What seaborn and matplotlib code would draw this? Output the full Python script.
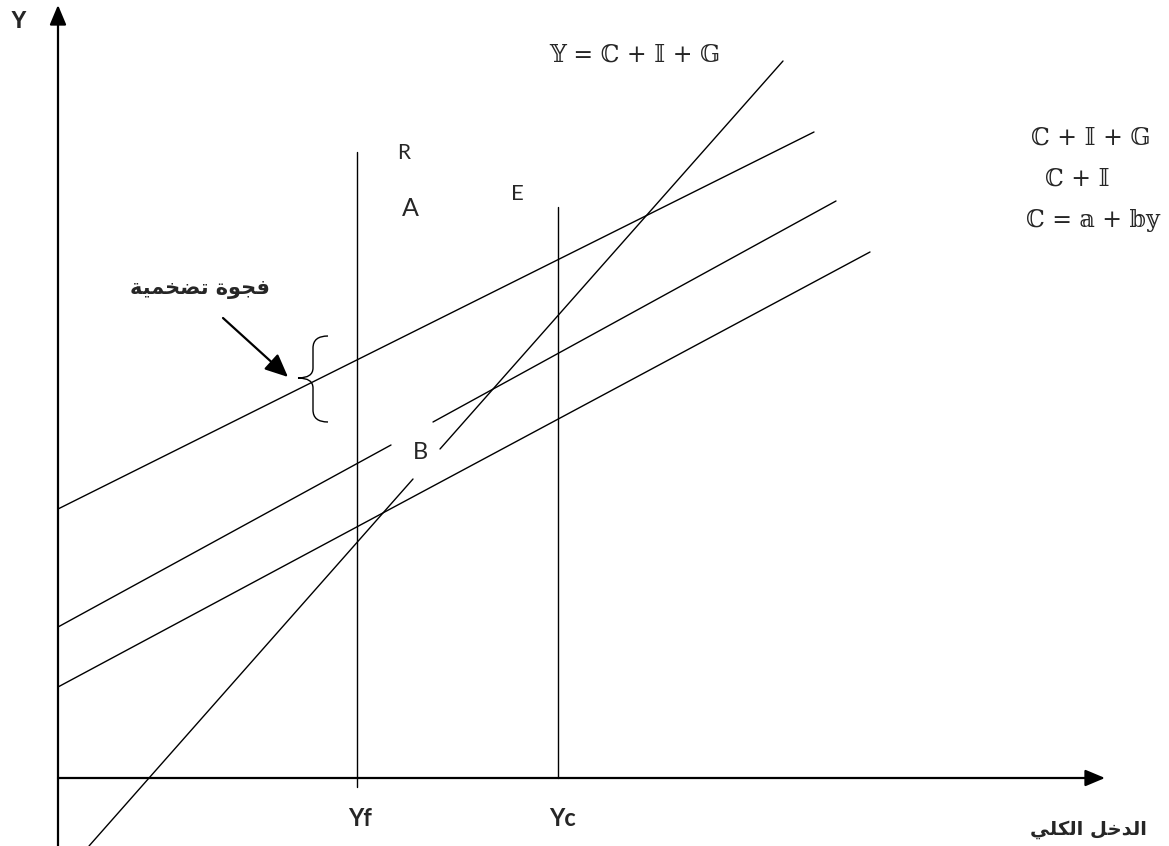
import numpy as np
import pandas as pd
import matplotlib
matplotlib.use("Agg")
import matplotlib.pyplot as plt
from matplotlib.path import Path
from matplotlib.patches import PathPatch
import seaborn as sns

# ---- data (diagram units: origin at the axes' crossing) ----
# aggregate demand C+I+G
cig_x = [0, 756]
cig_y = [269, 646]
# C+I (interrupted around the label B)
ci_x1 = [0, 333]
ci_y1 = [151, 333]
ci_x2 = [375, 778]
ci_y2 = [356, 577]
# consumption C = a + by
c_x = [0, 812]
c_y = [91, 526]
# 45-degree line Y = C+I+G (interrupted around B)
yy_x1 = [31, 355]
yy_y1 = [-68, 299]
yy_x2 = [382, 725]
yy_y2 = [329, 717]
# vertical income levels
yf_x = [299, 299]
yf_y = [-9, 626]
yc_x = [500, 500]
yc_y = [0, 571]

tick_labels = ["Yf", "Yc"]
tick_pos = [302, 504]

point_labels = ["R", "A", "E", "B"]
point_pos = [(346, 625), (352, 570), (459, 584), (362, 326)]
point_sizes = [15, 18, 16, 17]

formula_top = "\U0001D550 = \u2102 + \U0001D540 + \U0001D53E"          # 𝕐 = ℂ + 𝕀 + 𝔾
formula_right = ["\u2102 + \U0001D540 + \U0001D53E",                   # ℂ + 𝕀 + 𝔾
                 "\u2102 + \U0001D540",                                # ℂ + 𝕀
                 "\u2102 = \U0001D552 + \U0001D553\U0001D56A"]         # ℂ = 𝕒 + 𝕓𝕪
formula_right_pos = [(1033, 640), (1019, 599), (1035, 558)]

gap_label = "\uFE94\uFEF4\uFEE4\uFEA8\uFEC0\uFE97 \uFE93\uFEEE\uFEA0\uFED3"   # فجوة تضخمية
income_label = "\uFEF2\uFEE0\uFEDC\uFEDF\uFE8D \uFEDE\uFEA7\uFEAA\uFEDF\uFE8D"  # الدخل الكلي

sns.set_theme(style="white")
plt.rcParams["font.family"] = ["Lato", "DejaVu Sans"]

fig = plt.figure(figsize=(11.69, 8.46), dpi=100)
ax = fig.add_axes([0, 0, 1, 1])
ax.set_xlim(-58, 1111)
ax.set_ylim(-68, 778)
ax.axis("off")

line_kw = dict(color="black", linewidth=1.0, legend=False, estimator=None, sort=False)
for xs, ys in [(cig_x, cig_y), (ci_x1, ci_y1), (ci_x2, ci_y2), (c_x, c_y),
               (yy_x1, yy_y1), (yy_x2, yy_y2), (yf_x, yf_y), (yc_x, yc_y)]:
    sns.lineplot(x=xs, y=ys, ax=ax, **line_kw)

# axes with arrows
arrow_kw = dict(arrowstyle="-|>,head_length=1.0,head_width=0.42", color="black",
                lw=1.6, shrinkA=0, shrinkB=0, mutation_scale=12)
ax.annotate("", xy=(0, 773), xytext=(0, -68), arrowprops=arrow_kw)
ax.annotate("", xy=(1047, 0), xytext=(0, 0), arrowprops=arrow_kw)

# axis labels
ax.text(-40, 757, "Y", fontsize=17, fontweight="bold", family=["Liberation Sans"],
        ha="center", va="center")
ax.text(1030, -51, income_label, fontsize=14, fontweight="bold",
        family=["DejaVu Sans"], ha="center", va="center")
for lab, xp in zip(tick_labels, tick_pos):
    ax.text(xp, -40, lab, fontsize=17, fontweight="bold", ha="center", va="center")

# formulas
math_fam = ["DejaVu Serif", "DejaVu Sans"]
ax.text(577, 723, formula_top, fontsize=17, family=math_fam, ha="center", va="center")
for txt, (xp, yp) in zip(formula_right, formula_right_pos):
    ax.text(xp, yp, txt, fontsize=17, family=math_fam, ha="center", va="center")

# point labels
for lab, (xp, yp), fs in zip(point_labels, point_pos, point_sizes):
    ax.text(xp, yp, lab, fontsize=fs, ha="center", va="center")

# inflationary gap label, arrow and brace
ax.text(142, 489, gap_label, fontsize=15, fontweight="bold",
        family=["DejaVu Sans"], ha="center", va="center")
ax.annotate("", xy=(230, 401), xytext=(165, 460),
            arrowprops=dict(arrowstyle="-|>,head_length=1.0,head_width=0.45",
                            color="black", lw=1.6, shrinkA=0, shrinkB=0,
                            mutation_scale=14))
bx_end, bx_body, bx_tip = 270, 255, 240
by_top, by_mid, by_bot = 442, 400, 356
verts = [(bx_end, by_top), (bx_body, by_top), (bx_body, by_top - 12),
         (bx_body, by_mid + 10), (bx_body, by_mid), (bx_tip, by_mid),
         (bx_body, by_mid), (bx_body, by_mid - 10),
         (bx_body, by_bot + 12), (bx_body, by_bot), (bx_end, by_bot)]
codes = [Path.MOVETO, Path.CURVE3, Path.CURVE3, Path.LINETO, Path.CURVE3, Path.CURVE3,
         Path.CURVE3, Path.CURVE3, Path.LINETO, Path.CURVE3, Path.CURVE3]
ax.add_patch(PathPatch(Path(verts, codes), fill=False, lw=1.0, color="black"))

fig.savefig("out.png", dpi=100)
